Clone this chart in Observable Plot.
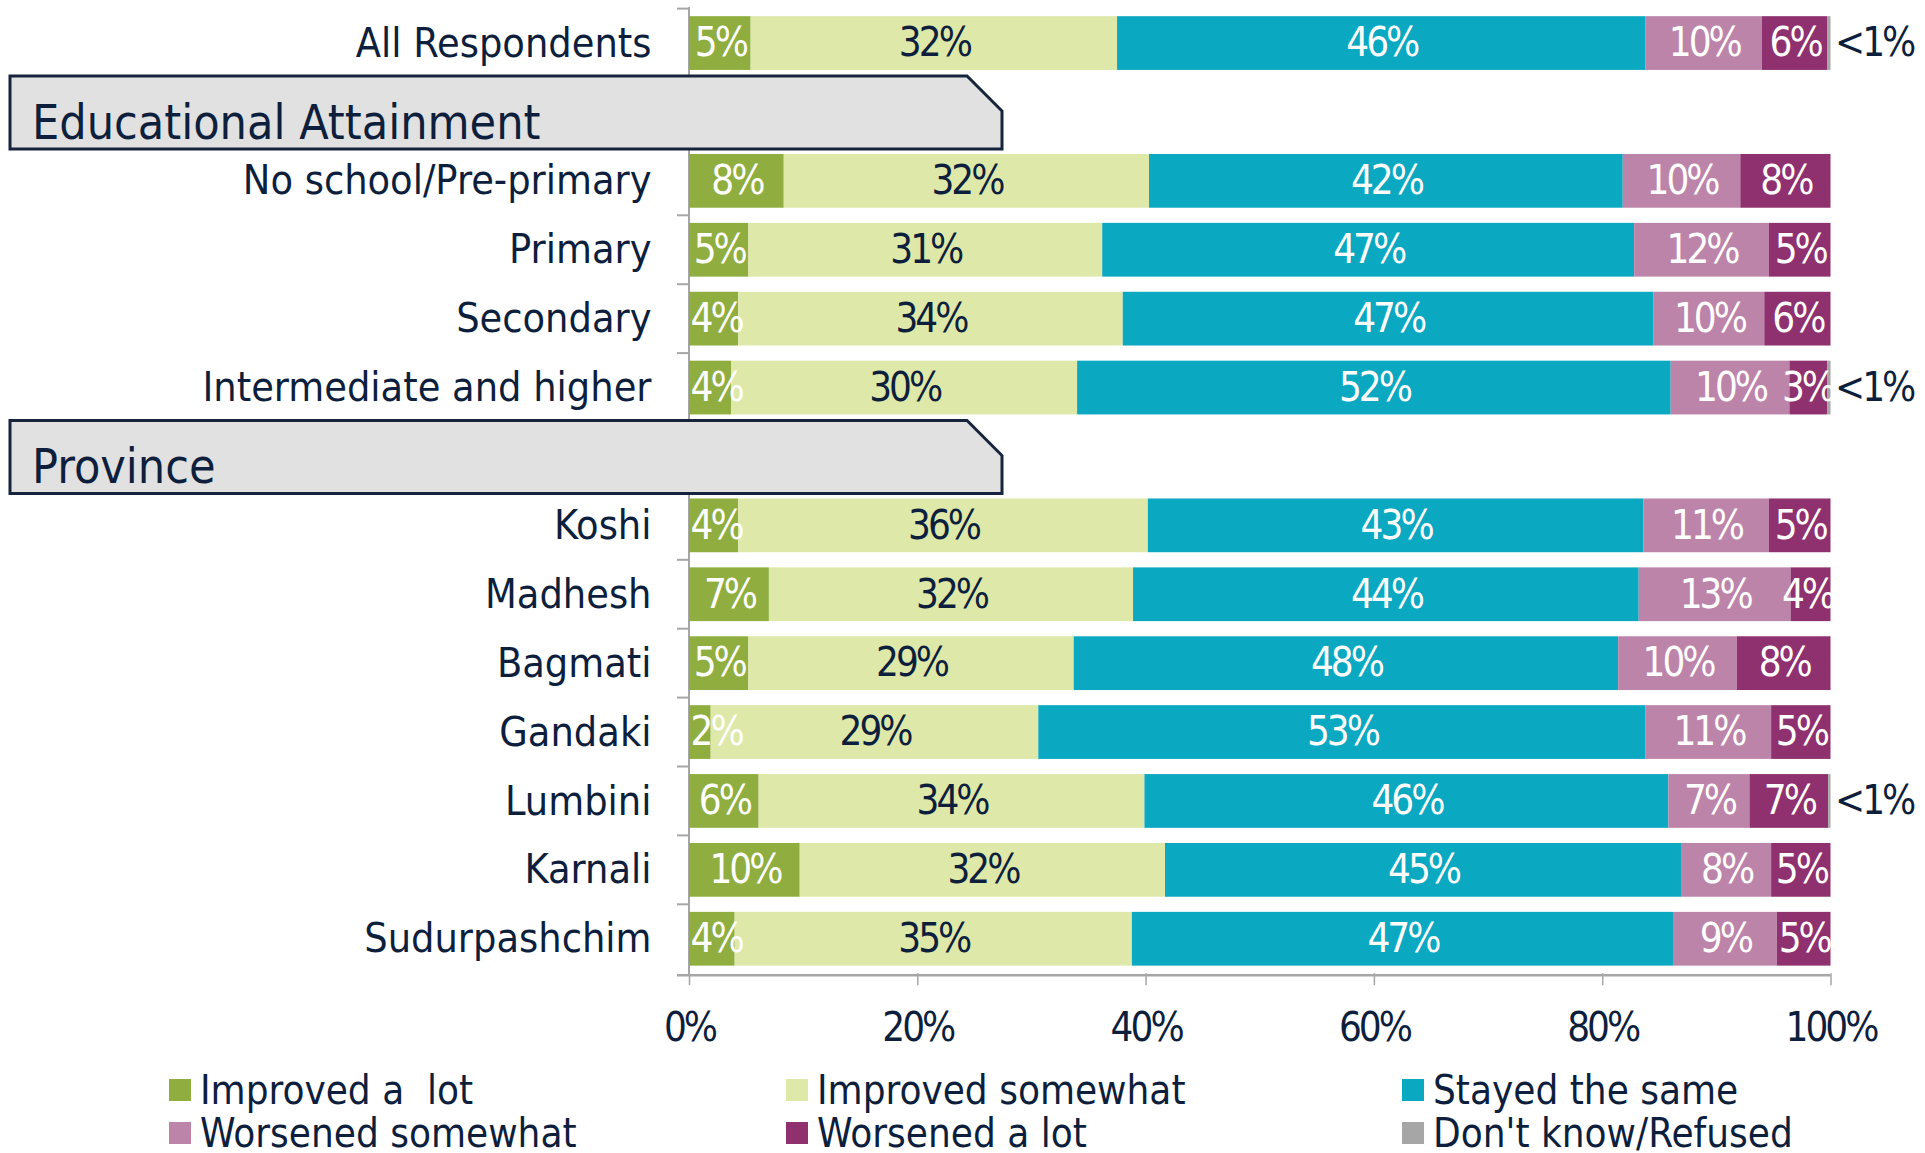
<!DOCTYPE html>
<html><head><meta charset="utf-8">
<script src="https://cdn.jsdelivr.net/npm/d3@7"></script>
<script src="https://cdn.jsdelivr.net/npm/@observablehq/plot@0.6"></script>
<style>
body{margin:0;background:#fff;font-family:"DejaVu Sans Condensed","Liberation Sans Narrow",sans-serif;overflow:hidden}
#chart svg{display:block}
#chart g[aria-label="text"] text, #chart g[aria-label="x-axis tick label"] text{letter-spacing:-3px}
#legend{position:relative;height:93px;width:1925px}
.item{position:absolute;display:flex;align-items:center;font-size:40px;color:#0d1f3c;white-space:pre;line-height:40px;height:40px}
.sw{width:22px;height:22px;margin-right:9px;flex:none}
</style></head><body>
<div id="chart"></div><div id="legend"></div>
<script>
const FONT = '"DejaVu Sans Condensed","Liberation Sans Narrow",sans-serif';
const NAVY = "#0d1f3c";
const rows = ["All Respondents","Educational Attainment","No school/Pre-primary","Primary","Secondary","Intermediate and higher","Province","Koshi","Madhesh","Bagmati","Gandaki","Lumbini","Karnali","Sudurpashchim"];
const headers = ["Educational Attainment","Province"];
const dataRows = rows.filter(r => !headers.includes(r));
const categories = ["Improved a  lot","Improved somewhat","Stayed the same","Worsened somewhat","Worsened a lot","Don't know/Refused"];
const colors = ["#8fae3f","#dee8a9","#0aa8c1","#bd84aa","#8f306f","#a6a6a6"];
// values per data row (All, No school, Primary, Secondary, Intermediate, Koshi, Madhesh, Bagmati, Gandaki, Lumbini, Karnali, Sudurpashchim)
const improvedLot      = [5.4, 8.3, 5.2, 4.3, 3.7, 4.3, 7.0, 5.2, 1.9, 6.1, 9.7, 4.0];
const improvedSomewhat = [32.1, 32.0, 31.0, 33.7, 30.3, 35.9, 31.9, 28.5, 28.7, 33.8, 32.0, 34.8];
const stayedSame       = [46.3, 41.5, 46.6, 46.5, 52.0, 43.4, 44.3, 47.7, 53.2, 45.9, 45.2, 47.4];
const worsenedSomewhat = [10.2, 10.3, 11.8, 9.7, 10.4, 11.0, 13.3, 10.4, 11.0, 7.1, 7.9, 9.1];
const worsenedLot      = [5.7, 7.9, 5.4, 5.8, 3.3, 5.4, 3.5, 8.2, 5.2, 6.9, 5.2, 4.7];
const dontKnow         = [0.3, 0, 0, 0, 0.3, 0, 0, 0, 0, 0.2, 0, 0];
const xTicks = [0, 20, 40, 60, 80, 100];

const series = [improvedLot, improvedSomewhat, stayedSame, worsenedSomewhat, worsenedLot, dontKnow];
const data = [];
dataRows.forEach((r, i) => {
  let acc = 0;
  series.forEach((s, j) => {
    const v = s[i];
    data.push({row: r, cat: categories[j], value: v, x1: acc, x2: acc + v});
    acc += v;
  });
});
const labelOf = d => Math.round(d.value) + "%";
const mainLabels = data.filter(d => d.cat !== categories[5]);
// narrow segments at the bar ends keep their labels inside the bar
const atStart = d => d.cat === categories[0] && d.value < 5;
const atEnd = d => d.cat === categories[4] && d.value < 4;
const centered = mainLabels.filter(d => !atStart(d) && !atEnd(d));

const W = 1925, H = 1060;
const plot = Plot.plot({
  width: W, height: H,
  marginLeft: 689, marginRight: 94.5, marginTop: 8.6, marginBottom: H - 973.2,
  x: {domain: [0, 100]},
  y: {domain: rows, paddingInner: 0.22, paddingOuter: 0.11, round: false, label: null},
  color: {domain: categories, range: colors},
  style: {fontFamily: FONT, background: "#fff", color: NAVY},
  marks: [
    Plot.barX(data, {x1: "x1", x2: "x2", y: "row", fill: "cat"}),
    Plot.text(centered.filter(d => d.cat === categories[1]), {x: d => (d.x1 + d.x2) / 2, y: "row", text: labelOf, fill: NAVY, fontSize: 40}),
    Plot.text(centered.filter(d => d.cat !== categories[1]), {x: d => (d.x1 + d.x2) / 2, y: "row", text: labelOf, fill: "white", fontSize: 40}),
    Plot.text(mainLabels.filter(atStart), {x: "x1", y: "row", text: labelOf, fill: "white", fontSize: 40, textAnchor: "start", dx: 1}),
    Plot.text(mainLabels.filter(atEnd), {x: 100, y: "row", text: labelOf, fill: "white", fontSize: 40, textAnchor: "end", dx: 2}),
    Plot.text(data.filter(d => d.cat === categories[5] && d.value > 0), {x: 100, y: "row", text: () => "<1%", dx: 4, textAnchor: "start", fill: NAVY, fontSize: 40}),
    Plot.axisY({tickSize: 0, tickPadding: 38, fontSize: 41, fill: NAVY, label: null, tickFormat: d => headers.includes(d) ? "" : d}),
    Plot.axisX({ticks: xTicks, tickSize: 12, tickPadding: 27, fontSize: 40, fill: NAVY, stroke: "#a6a6a6", strokeWidth: 1.5, label: null, tickFormat: d => d + "%"})
  ]
});
document.getElementById("chart").appendChild(plot);

// decorations derived from scales
const ys = plot.scale("y"), xs = plot.scale("x");
const svg = d3.select(plot);
const gap = (ys.step - ys.bandwidth) / 2;
const x0 = xs.apply(0), x100 = xs.apply(100);
const bottomY = ys.range[1] + 2;
const back = svg.insert("g", ":first-child").attr("stroke", "#a6a6a6").attr("stroke-width", 2);
back.append("line").attr("x1", x0).attr("x2", x0).attr("y1", ys.apply(rows[0]) - gap - 1.5).attr("y2", bottomY);
rows.forEach(r => {
  const yb = ys.apply(r) - gap;
  back.append("line").attr("x1", x0 - 12).attr("x2", x0).attr("y1", yb).attr("y2", yb);
});
svg.append("line").attr("x1", x0 - 12).attr("x2", x100).attr("y1", bottomY).attr("y2", bottomY)
  .attr("stroke", "#a6a6a6").attr("stroke-width", 2.5);

// header boxes
const boxLeft = 10, boxSlant = 967, boxRight = 1002;
headers.forEach(h => {
  const top = ys.apply(h) - gap - 1.5;
  const bot = top + ys.step + 4;
  const g = svg.append("g");
  g.append("path")
    .attr("d", `M${boxLeft},${top}L${boxSlant},${top}L${boxRight},${top + (boxRight - boxSlant)}L${boxRight},${bot}L${boxLeft},${bot}Z`)
    .attr("fill", "#e1e1e1").attr("stroke", "#16243d").attr("stroke-width", 3);
  g.append("text").attr("x", 32).attr("y", bot - 10).attr("font-size", 48).attr("fill", NAVY)
    .attr("text-anchor", "start").attr("font-family", FONT).text(h);
});

// legend
const lg = d3.select("#legend");
const colX = [169, 786, 1402], rowTop = [10, 53];
categories.forEach((c, i) => {
  const it = lg.append("div").attr("class", "item")
    .style("left", colX[i % 3] + "px").style("top", rowTop[Math.floor(i / 3)] + "px");
  it.append("div").attr("class", "sw").style("background", colors[i]);
  it.append("span").text(c);
});
</script>
</body></html>
